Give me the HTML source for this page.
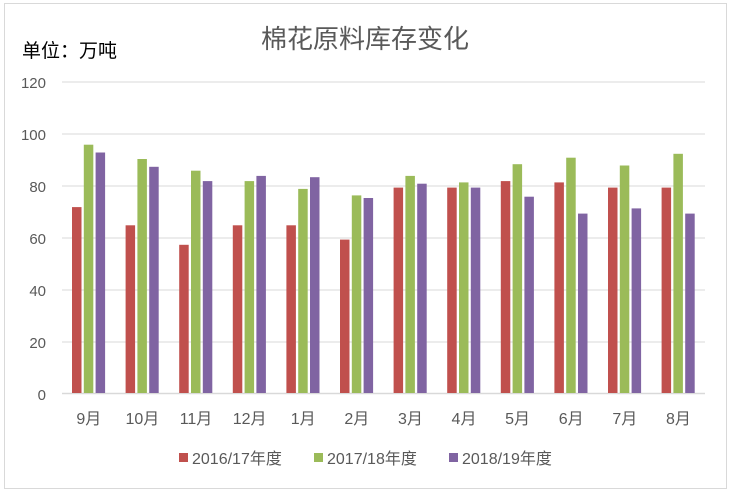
<!DOCTYPE html>
<html><head><meta charset="utf-8"><style>
body{margin:0;background:#fff;}
svg{display:block;font-family:"Liberation Sans","Noto Sans CJK SC",sans-serif;}
</style></head><body>
<svg width="731" height="493" xmlns="http://www.w3.org/2000/svg">
<rect x="4.5" y="3.5" width="722" height="485" fill="#fff" stroke="#d9d9d9"/>
<text x="365" y="48" font-size="26" fill="#595959" text-anchor="middle">棉花原料库存变化</text>
<text x="22" y="57" font-size="19" fill="#000">单位：万吨</text>
<g stroke="#d9d9d9" stroke-width="1">
<line x1="62" x2="705" y1="82" y2="82"/><line x1="62" x2="705" y1="134" y2="134"/>
<line x1="62" x2="705" y1="186" y2="186"/><line x1="62" x2="705" y1="238" y2="238"/>
<line x1="62" x2="705" y1="290" y2="290"/><line x1="62" x2="705" y1="342" y2="342"/>
</g>
<line x1="62" x2="705" y1="393.5" y2="393.5" stroke="#d9d9d9" stroke-width="1.5"/>
<g font-size="15" fill="#595959" text-anchor="end">
<text x="46" y="88">120</text><text x="46" y="140">100</text><text x="46" y="192">80</text>
<text x="46" y="244">60</text><text x="46" y="296">40</text><text x="46" y="348">20</text><text x="46" y="400">0</text>
</g>
<g id="bars"></g>
<g font-size="16" fill="#595959" text-anchor="middle" id="labels"></g>
<rect x="179" y="453" width="9" height="9" fill="#c0504d"/>
<text x="192" y="464" font-size="16" fill="#595959">2016/17年度</text>
<rect x="314" y="453" width="9" height="9" fill="#9bbb59"/>
<text x="327" y="464" font-size="16" fill="#595959">2017/18年度</text>
<rect x="449" y="453" width="9" height="9" fill="#8064a2"/>
<text x="462" y="464" font-size="16" fill="#595959">2018/19年度</text>
<script>
var d=[[71.5,95.5,92.5],[64.5,90,87],[57,85.5,81.5],[64.5,81.5,83.5],[64.5,78.5,83],[59,76,75],[79,83.5,80.5],[79,81,79],[81.5,88,75.5],[81,90.5,69],[79,87.5,71],[79,92,69]];
var m=["9月","10月","11月","12月","1月","2月","3月","4月","5月","6月","7月","8月"];
var c=["#c0504d","#9bbb59","#8064a2"];
var b=document.getElementById("bars"),l=document.getElementById("labels"),ns="http://www.w3.org/2000/svg";
for(var i=0;i<12;i++){var x0=62+i*53.6+10;
for(var j=0;j<3;j++){var r=document.createElementNS(ns,"rect");var h=d[i][j]*2.6;
r.setAttribute("x",x0+j*11.8);r.setAttribute("y",393-h);r.setAttribute("width",9.5);r.setAttribute("height",h);r.setAttribute("fill",c[j]);b.appendChild(r);}
var t=document.createElementNS(ns,"text");t.setAttribute("x",62+i*53.6+26.8);t.setAttribute("y",424);t.textContent=m[i];l.appendChild(t);}
</script>
</svg>
</body></html>
